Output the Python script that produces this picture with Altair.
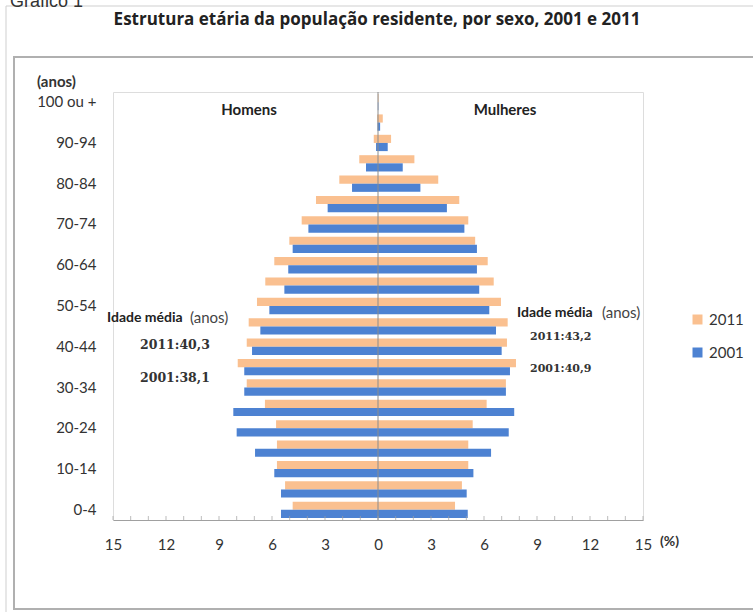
import altair as alt
import pandas as pd

ages = ["0-4", "5-9", "10-14", "15-19", "20-24", "25-29", "30-34", "35-39", "40-44",
        "45-49", "50-54", "55-59", "60-64", "65-69", "70-74", "75-79", "80-84",
        "85-89", "90-94", "95-99", "100 ou +"]
shown_ages = ["0-4", "10-14", "20-24", "30-34", "40-44", "50-54", "60-64", "70-74",
              "80-84", "90-94", "100 ou +"]
years = ["2011", "2001"]

men_2011 = [4.83, 5.26, 5.72, 5.72, 5.77, 6.40, 7.43, 7.94, 7.43, 7.32, 6.85, 6.38,
            5.87, 5.02, 4.32, 3.51, 2.19, 1.06, 0.24, 0.05, 0.01]
men_2001 = [5.49, 5.49, 5.87, 6.96, 8.00, 8.19, 7.57, 7.57, 7.13, 6.66, 6.15, 5.30,
            5.08, 4.83, 3.94, 2.85, 1.47, 0.68, 0.11, 0.03, 0.01]
women_2011 = [4.36, 4.75, 5.11, 5.11, 5.36, 6.15, 7.24, 7.81, 7.30, 7.34, 6.96, 6.55,
              6.21, 5.50, 5.11, 4.60, 3.41, 2.06, 0.74, 0.27, 0.03]
women_2001 = [5.08, 5.02, 5.40, 6.40, 7.40, 7.71, 7.24, 7.47, 7.00, 6.68, 6.30, 5.73,
              5.60, 5.60, 4.89, 3.90, 2.40, 1.40, 0.55, 0.12, 0.02]

x_ticks = list(range(-15, 16))

colors = ["#FAC090", "#4D82D2"]

rows = []
for i, a in enumerate(ages):
    rows.append({"age": a, "year": "2011", "sex": "Homens", "value": -men_2011[i]})
    rows.append({"age": a, "year": "2001", "sex": "Homens", "value": -men_2001[i]})
    rows.append({"age": a, "year": "2011", "sex": "Mulheres", "value": women_2011[i]})
    rows.append({"age": a, "year": "2001", "sex": "Mulheres", "value": women_2001[i]})
df = pd.DataFrame(rows)

W, H = 530, 428
PL, PT = 113, 92
SANS = "Lato"
SERIF = "DejaVu Serif"

xscale = alt.Scale(domain=[-15, 15], nice=False, zero=False)
yscale = alt.Scale(domain=list(reversed(ages)), paddingInner=0.2, paddingOuter=0.1)
x_axis = alt.Axis(values=x_ticks, orient="bottom", domain=True, domainColor="#a0a0a0",
                  ticks=False, grid=False,
                  labelExpr="datum.value % 3 == 0 ? abs(datum.value) : ''",
                  labelFont=SANS, labelFontSize=15, labelColor="#333333",
                  labelPadding=17, labelFlush=False)

one = pd.DataFrame({"k": [0]})

def frame(x1, y1, x2, y2, color, sw):
    return alt.Chart(one).mark_rect(fillOpacity=0, stroke=color, strokeWidth=sw).encode(
        x=alt.value(x1 - PL), x2=alt.value(x2 - PL), y=alt.value(y1 - PT), y2=alt.value(y2 - PT))

def label(txt, x, y, size=14, weight="normal", font=SANS, align="left", color="#333333", baseline="middle"):
    return alt.Chart(one).mark_text(text=txt, fontSize=size, fontWeight=weight, font=font,
                                     align=align, baseline=baseline, color=color).encode(
        x=alt.value(x - PL), y=alt.value(y - PT))

bars = alt.Chart(df).mark_bar().encode(
    y=alt.Y("age:N", scale=yscale, title=None,
            axis=alt.Axis(values=shown_ages, domain=False, ticks=False, grid=False,
                          labelFont=SANS, labelFontSize=15, labelColor="#333333",
                          labelPadding=17)),
    yOffset=alt.YOffset("year:N", sort=years),
    x=alt.X("value:Q", scale=xscale, title=None, axis=x_axis),
    color=alt.Color("year:N", scale=alt.Scale(domain=years, range=colors), title=None,
                    legend=alt.Legend(orient="none", legendX=577, legendY=220,
                                      symbolType="square", symbolSize=100, symbolStrokeWidth=0,
                                      labelFont=SANS, labelFontSize=15, labelColor="#333333",
                                      rowPadding=17, padding=0)),
)

center_line = alt.Chart(pd.DataFrame({"value": [0]})).mark_rule(color="#8c8c8c", strokeWidth=1).encode(
    x=alt.X("value:Q", scale=xscale, title=None, axis=x_axis),
)

minor_ticks = alt.Chart(pd.DataFrame({"value": x_ticks})).mark_tick(
    orient="vertical", size=4, thickness=1, color="#a0a0a0").encode(
    x=alt.X("value:Q", scale=xscale, title=None, axis=x_axis),
    y=alt.value(H - 2),
)

chart = alt.layer(
    frame(6, 6, 800, 800, "#cfcfcf", 1),
    frame(14, 57, 800, 609, "#b0b0b0", 2),
    bars,
    center_line,
    minor_ticks,
    label("Gráfico 1", 10, 7, size=18, font="Liberation Sans", color="#333333", baseline="alphabetic"),
    label("Estrutura etária da população residente, por sexo, 2001 e 2011", 377, 20,
          size=17, weight="bold", font="Open Sans", align="center", color="#222222"),
    label("(anos)", 37, 82, size=15, weight="bold"),
    label("(%)", 660, 542, size=14, weight="bold"),
    label("Homens", 249, 110, size=15, weight="bold", align="center", color="#222222"),
    label("Mulheres", 505, 110, size=15, weight="bold", align="center", color="#222222"),
    label("Idade média", 107, 318, size=14, weight="bold", color="#222222"),
    label("(anos)", 190, 318, size=15, color="#444444"),
    label("Idade média", 517, 313, size=14, weight="bold", color="#222222"),
    label("(anos)", 602, 313, size=15, color="#444444"),
    label("2011:40,3", 140, 345, size=12.5, weight="bold", font=SERIF, color="#333333"),
    label("2001:38,1", 140, 378, size=12.5, weight="bold", font=SERIF, color="#333333"),
    label("2011:43,2", 530, 337, size=11, weight="bold", font=SERIF, color="#333333"),
    label("2001:40,9", 530, 369, size=11, weight="bold", font=SERIF, color="#333333"),
).properties(
    width=W, height=H,
    padding={"left": PL, "top": PT, "right": 753 - PL - W, "bottom": 612 - PT - H},
    autosize=alt.AutoSizeParams(type="none"),
).configure_view(stroke="transparent").configure(background="white")

chart.save("out.html", embed_options={"renderer": "svg", "actions": False})
